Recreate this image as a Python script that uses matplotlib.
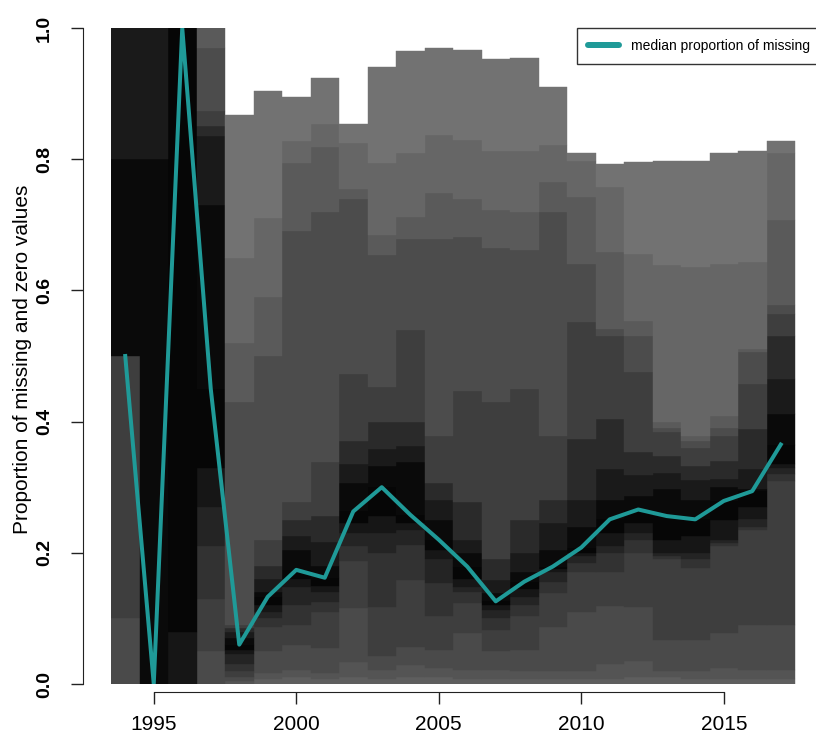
import numpy as np
import matplotlib.pyplot as plt

plt.rcParams['font.family'] = ['Liberation Sans', 'DejaVu Sans']

years = np.arange(1994, 2018)

# probability levels of the quantiles given for every year
probs = [0, .025, .05, .1, .2, .3, .4, .45, .5, .55, .6, .7, .8, .9, .95, .975, 1]

# yearly quantiles of the proportion of missing and zero values
q1994 = [0, 0, 0, 0.10, 0.50, 0.50, 0.50, 0.50, 0.50, 0.80, 1, 1, 1, 1, 1, 1, 1]
q1995 = [0, 0, 0, 0, 0, 0, 0, 0, 0, 0.80, 1, 1, 1, 1, 1, 1, 1]
q1996 = [0, 0, 0, 0, 0, 0, 0, 0.08, 1, 1, 1, 1, 1, 1, 1, 1, 1]
q1997 = [0, 0, 0, 0.05, 0.13, 0.21, 0.27, 0.33, 0.45, 0.73, 0.835, 0.85, 0.873, 0.97, 1, 1, 1]
q1998 = [0, 0, 0.005, 0.01, 0.02, 0.03, 0.045, 0.052, 0.06, 0.07, 0.08, 0.085, 0.09, 0.43, 0.52, 0.65, 0.868]
q1999 = [0, 0.008, 0.017, 0.05, 0.087, 0.10, 0.11, 0.12, 0.133, 0.14, 0.16, 0.18, 0.22, 0.50, 0.59, 0.71, 0.904]
q2000 = [0, 0.01, 0.021, 0.06, 0.09, 0.12, 0.148, 0.16, 0.174, 0.205, 0.225, 0.25, 0.277, 0.69, 0.794, 0.827, 0.895]
q2001 = [0, 0.008, 0.017, 0.055, 0.11, 0.125, 0.14, 0.15, 0.162, 0.18, 0.217, 0.256, 0.338, 0.72, 0.818, 0.853, 0.924]
q2002 = [0, 0.01, 0.034, 0.116, 0.187, 0.21, 0.23, 0.245, 0.263, 0.307, 0.335, 0.37, 0.472, 0.74, 0.754, 0.824, 0.853]
q2003 = [0, 0.008, 0.021, 0.042, 0.118, 0.2, 0.23, 0.256, 0.30, 0.332, 0.358, 0.40, 0.453, 0.654, 0.684, 0.794, 0.94]
q2004 = [0, 0.01, 0.029, 0.057, 0.159, 0.212, 0.235, 0.246, 0.258, 0.338, 0.363, 0.40, 0.54, 0.678, 0.712, 0.81, 0.965]
q2005 = [0, 0.01, 0.025, 0.052, 0.103, 0.154, 0.19, 0.205, 0.22, 0.25, 0.281, 0.307, 0.378, 0.679, 0.748, 0.837, 0.969]
q2006 = [0, 0.008, 0.021, 0.078, 0.124, 0.14, 0.148, 0.16, 0.179, 0.20, 0.22, 0.277, 0.447, 0.682, 0.74, 0.829, 0.966]
q2007 = [0, 0.008, 0.021, 0.05, 0.083, 0.10, 0.113, 0.12, 0.126, 0.139, 0.159, 0.19, 0.43, 0.665, 0.722, 0.812, 0.953]
q2008 = [0, 0.008, 0.02, 0.052, 0.103, 0.12, 0.133, 0.145, 0.156, 0.17, 0.20, 0.25, 0.45, 0.662, 0.72, 0.812, 0.954]
q2009 = [0, 0.008, 0.02, 0.087, 0.139, 0.155, 0.17, 0.175, 0.179, 0.205, 0.246, 0.281, 0.378, 0.72, 0.766, 0.821, 0.91]
q2010 = [0, 0.008, 0.02, 0.109, 0.17, 0.185, 0.195, 0.20, 0.208, 0.24, 0.28, 0.373, 0.552, 0.64, 0.743, 0.797, 0.81]
q2011 = [0, 0.008, 0.03, 0.119, 0.17, 0.20, 0.21, 0.23, 0.251, 0.281, 0.327, 0.404, 0.53, 0.541, 0.659, 0.758, 0.792]
q2012 = [0, 0.01, 0.035, 0.118, 0.20, 0.22, 0.23, 0.245, 0.266, 0.286, 0.318, 0.353, 0.475, 0.531, 0.554, 0.656, 0.795]
q2013 = [0, 0.01, 0.02, 0.067, 0.19, 0.195, 0.20, 0.22, 0.256, 0.297, 0.322, 0.347, 0.384, 0.39, 0.40, 0.638, 0.797]
q2014 = [0, 0.008, 0.02, 0.067, 0.177, 0.19, 0.20, 0.225, 0.251, 0.281, 0.311, 0.332, 0.36, 0.37, 0.378, 0.636, 0.797]
q2015 = [0, 0.008, 0.025, 0.078, 0.21, 0.215, 0.22, 0.25, 0.279, 0.30, 0.313, 0.34, 0.378, 0.39, 0.408, 0.64, 0.81]
q2016 = [0, 0.008, 0.021, 0.09, 0.235, 0.24, 0.251, 0.27, 0.294, 0.297, 0.327, 0.388, 0.457, 0.506, 0.51, 0.643, 0.812]
q2017 = [0, 0.008, 0.021, 0.09, 0.31, 0.32, 0.33, 0.335, 0.365, 0.411, 0.465, 0.53, 0.564, 0.578, 0.708, 0.809, 0.828]

# grey for each band between two quantile levels, dark near the median
band_greys = ['#5e5e5e', '#545454', '#4a4a4a', '#3e3e3e', '#323232', '#242424', '#161616', '#060606',
              '#0a0a0a', '#1a1a1a', '#2a2a2a', '#3e3e3e', '#4c4c4c', '#5a5a5a', '#666666', '#727272']

quant = np.array([q1994, q1995, q1996, q1997, q1998, q1999, q2000, q2001, q2002, q2003, q2004, q2005,
                  q2006, q2007, q2008, q2009, q2010, q2011, q2012, q2013, q2014, q2015, q2016, q2017])
median = quant[:, probs.index(.5)]

px = 72.0 / 100  # points per pixel at dpi 100

fig = plt.figure(figsize=(8.16, 7.42), dpi=100)
ax = fig.add_axes([111 / 816, 58 / 742, 705 / 816, 656 / 742])

# fan of quantile bands, one column per year
for b in range(len(probs) - 1):
    lo = quant[:, b]
    hi = quant[:, b + 1]
    keep = hi > lo
    ax.bar(years[keep], (hi - lo)[keep], bottom=lo[keep], width=1.0,
           color=band_greys[b], edgecolor=band_greys[b], linewidth=0.3)

# median line
ax.plot(years, median, color='#1f9a98', lw=4 * px, label='median proportion of missing',
        zorder=5, solid_joinstyle='round')

ax.set_xlim(1993.5, 1993.5 + 705 / 28.5)
ax.set_ylim(0, 1)

# axes drawn apart from the data region
ax.spines['top'].set_visible(False)
ax.spines['right'].set_visible(False)
ax.spines['left'].set_position(('outward', 28 * px))
ax.spines['left'].set_bounds(0, 1)
ax.spines['bottom'].set_position(('outward', 8 * px))
ax.spines['bottom'].set_bounds(1995, 2015)
ax.spines['left'].set_color('#222222')
ax.spines['bottom'].set_color('#222222')

ax.set_xticks([1995, 2000, 2005, 2010, 2015])
ax.set_yticks(np.arange(0, 1.01, 0.2))
ax.set_yticklabels(['%.1f' % v for v in np.arange(0, 1.01, 0.2)])
ax.tick_params(axis='y', length=12 * px, width=1, pad=13, labelsize=14, labelrotation=90, color='#222222')
ax.tick_params(axis='x', length=12 * px, width=1, pad=8, labelsize=15, color='#222222')
for lab in ax.get_yticklabels():
    lab.set_fontweight('bold')
    lab.set_va('center')

ax.set_ylabel('Proportion of missing and zero values', fontsize=15)
ax.yaxis.set_label_coords(-0.112, 0.495)

leg = ax.legend(loc='upper left', bbox_to_anchor=(577 / 816, 1 - 28 / 742), bbox_transform=fig.transFigure,
                frameon=True, fancybox=False, edgecolor='black', fontsize=10, handlelength=2.2,
                handletextpad=0.9, borderpad=0.8, borderaxespad=0)
leg.get_frame().set_linewidth(1.0)
for h in leg.legend_handles:
    h.set_linewidth(6 * px)
    h.set_solid_capstyle('round')

fig.savefig('out.png', dpi=100)
